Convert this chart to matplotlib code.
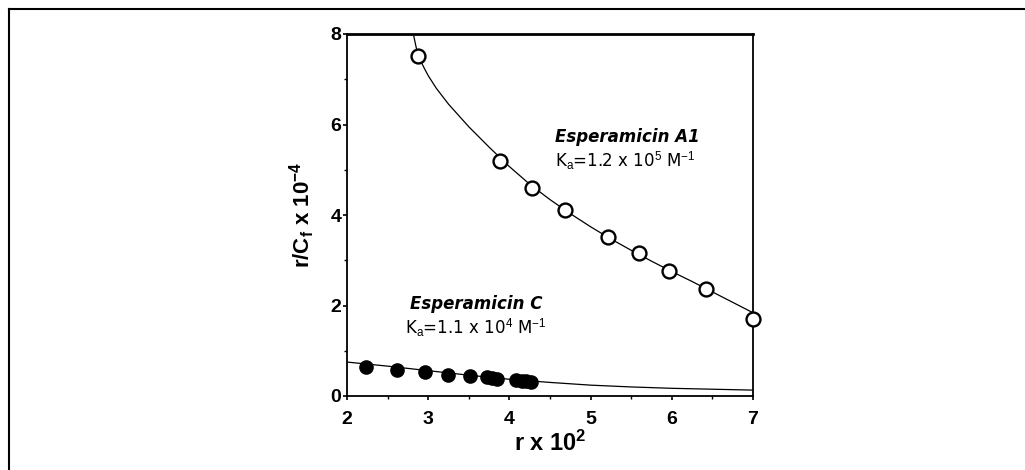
import matplotlib
matplotlib.use("Agg")
import matplotlib.pyplot as plt
from matplotlib.lines import Line2D

plt.rcParams['font.family'] = ['Liberation Sans', 'DejaVu Sans']
plt.rcParams['mathtext.fontset'] = 'custom'
plt.rcParams['mathtext.rm'] = 'Liberation Sans'
plt.rcParams['mathtext.it'] = 'Liberation Sans:italic'
plt.rcParams['mathtext.bf'] = 'Liberation Sans:bold'

# Esperamicin A1 (open circles)
a1_x = [2.88, 3.88, 4.28, 4.69, 5.21, 5.59, 5.97, 6.42, 7.00]
a1_y = [7.51, 5.19, 4.60, 4.10, 3.51, 3.15, 2.76, 2.37, 1.70]
# fitted curve for A1
a1_fit_x = [2.817, 2.85, 2.88, 2.95, 3.0, 3.1, 3.25, 3.5, 3.75, 4.0, 4.25, 4.5, 4.75,
            5.0, 5.25, 5.5, 5.75, 6.0, 6.25, 6.5, 6.75, 7.0]
a1_fit_y = [8.0, 7.72, 7.5, 7.25, 7.08, 6.8, 6.45, 5.95, 5.5, 5.07, 4.68, 4.34, 4.03,
            3.74, 3.47, 3.22, 2.98, 2.75, 2.53, 2.30, 2.07, 1.84]

# Esperamicin C (filled circles)
c_x = [2.24, 2.62, 2.96, 3.24, 3.51, 3.72, 3.79, 3.85, 4.08, 4.15, 4.21, 4.27]
c_y = [0.64, 0.58, 0.52, 0.47, 0.44, 0.41, 0.40, 0.38, 0.35, 0.34, 0.33, 0.30]
# fitted curve for C
c_fit_x = [2.0, 2.5, 3.0, 3.5, 4.0, 4.5, 5.0, 5.5, 6.0, 6.5, 7.0]
c_fit_y = [0.75, 0.66, 0.56, 0.46, 0.37, 0.30, 0.24, 0.20, 0.17, 0.15, 0.13]

x_ticks = [2, 3, 4, 5, 6, 7]
y_ticks = [0, 2, 4, 6, 8]

fig = plt.figure(figsize=(10.25, 4.7), dpi=100)
ax = fig.add_axes([347/1025, 1-396/470, (753-347)/1025, (396-34)/470])

ax.plot(a1_fit_x, a1_fit_y, color='black', lw=0.9, zorder=2)
ax.plot(c_fit_x, c_fit_y, color='black', lw=0.9, zorder=2)
ax.plot(a1_x, a1_y, 'o', ms=10, mfc='white', mec='black', mew=1.7, zorder=3, clip_on=False)
ax.plot(c_x, c_y, 'o', ms=9.5, mfc='black', mec='black', mew=1.0, zorder=3, clip_on=False)

ax.set_xlim(2, 7)
ax.set_ylim(0, 8)
ax.set_xticks(x_ticks)
ax.set_yticks(y_ticks)
ax.set_xticks([2.5, 3.5, 4.5, 5.5, 6.5], minor=True)
ax.set_yticks([1, 3, 5, 7], minor=True)
ax.set_xticklabels([str(v) for v in x_ticks], fontsize=14, fontweight='bold')
ax.set_yticklabels([str(v) for v in y_ticks], fontsize=14, fontweight='bold')
ax.tick_params(axis='x', which='major', direction='out', length=3, width=1.2, pad=8)
ax.tick_params(axis='y', which='major', direction='out', length=3, width=1.2, pad=1)
ax.tick_params(which='minor', direction='out', length=2, width=1.0)
for s in ax.spines.values():
    s.set_linewidth(1.3)
ax.spines['top'].set_linewidth(2.0)

ax.set_xlabel(r'r x 10$^{\mathbf{2}}$', fontsize=17, fontweight='bold', labelpad=2)
ax.set_ylabel(r'r/C$_{\mathbf{f}}$ x 10$^{\mathbf{-4}}$', fontsize=16, fontweight='bold', labelpad=10)

ax.text(4.56, 5.72, 'Esperamicin A1', fontsize=12, fontweight='bold', fontstyle='italic',
        ha='left', va='center', family=['DejaVu Sans'])
ax.text(4.56, 5.19, r'K$_{\mathrm{a}}$=1.2 x 10$^{5}$ M$^{-1}$', fontsize=12, ha='left', va='center',
        family=['DejaVu Sans'])
ax.text(3.59, 2.03, 'Esperamicin C', fontsize=12, fontweight='bold', fontstyle='italic',
        ha='center', va='center', family=['DejaVu Sans'])
ax.text(3.58, 1.50, r'K$_{\mathrm{a}}$=1.1 x 10$^{4}$ M$^{-1}$', fontsize=12, ha='center', va='center',
        family=['DejaVu Sans'])

# outer frame (top and left)
fig.add_artist(Line2D([9/1025, 9/1025], [0, 1-9/470], transform=fig.transFigure, color='black', lw=1.5))
fig.add_artist(Line2D([9/1025, 1], [1-9/470, 1-9/470], transform=fig.transFigure, color='black', lw=1.5))

fig.savefig('out.png', dpi=100)
